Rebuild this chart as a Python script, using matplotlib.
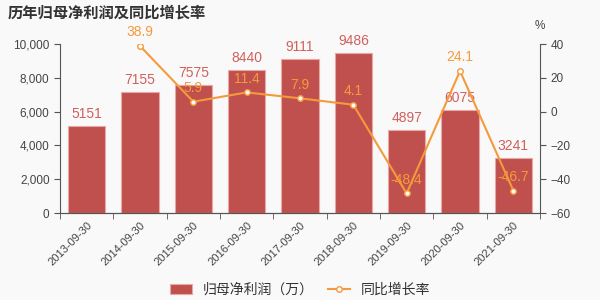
import matplotlib.pyplot as plt
import numpy as np

plt.rcParams['font.family'] = ['Liberation Sans', 'Noto Sans CJK SC', 'DejaVu Sans']
plt.rcParams['axes.unicode_minus'] = False

# data
dates = ['2013-09-30', '2014-09-30', '2015-09-30', '2016-09-30', '2017-09-30',
         '2018-09-30', '2019-09-30', '2020-09-30', '2021-09-30']
profit = [5151, 7155, 7575, 8440, 9111, 9486, 4897, 6075, 3241]
growth = [None, 38.9, 5.9, 11.4, 7.9, 4.1, -48.4, 24.1, -46.7]

bar_color = '#c0504d'
line_color = '#f59a3c'
bg = '#f9f9f9'
axis_color = '#555555'

fig = plt.figure(figsize=(6, 3), dpi=100, facecolor=bg)
ax = fig.add_axes([0.1, 0.29, 0.8, 0.563], facecolor=bg)
x = np.arange(len(dates))

bars = ax.bar(x, profit, width=0.7, color=bar_color, edgecolor='#e8a8a6',
              linewidth=0.8, label='归母净利润（万）', zorder=2)
for xi, v in zip(x, profit):
    ax.text(xi, v + 300, str(v), ha='center', va='bottom', fontsize=10,
            color='#d0605c', zorder=5)

ax.set_xlim(-0.5, len(dates) - 0.5)
ax.set_ylim(0, 10000)
ax.set_yticks(range(0, 10001, 2000))
ax.set_yticklabels(['{:,}'.format(v) for v in range(0, 10001, 2000)])
ax.set_xticks(x)
ax.set_xticklabels(dates, rotation=45, ha='right', rotation_mode='anchor')
ax.set_xticks(np.arange(-0.5, len(dates)), minor=True)
ax.tick_params(axis='x', which='major', length=0, pad=5, labelsize=8)
ax.tick_params(axis='x', which='minor', length=4, color=axis_color)
ax.tick_params(axis='y', length=4, color=axis_color, labelsize=8.5)
ax.tick_params(labelcolor='#444444')

ax2 = ax.twinx()
gx = [xi for xi, g in zip(x, growth) if g is not None]
gy = [g for g in growth if g is not None]
ax2.plot(gx, gy, color=line_color, linewidth=1.5, marker='o', markersize=4,
         markerfacecolor='white', markeredgecolor=line_color, markeredgewidth=1,
         label='同比增长率', zorder=4)
for xi, g in zip(gx, gy):
    ax2.text(xi, g + 4, str(g), ha='center', va='bottom', fontsize=10,
             color=line_color, zorder=5)
ax2.set_ylim(-60, 40)
ax2.set_yticks(range(-60, 41, 20))
ax2.set_yticklabels([str(v).replace('-', '−') for v in range(-60, 41, 20)])
ax2.tick_params(axis='y', length=4, color=axis_color, labelsize=8.5, labelcolor='#444444')
ax2.text(1.0, 1.07, '%', transform=ax2.transAxes, ha='center', va='bottom',
         fontsize=8.5, color='#444444')

for a in (ax, ax2):
    a.spines['top'].set_visible(False)
    for s in ('left', 'right', 'bottom'):
        a.spines[s].set_color(axis_color)
        a.spines[s].set_linewidth(0.8)
ax.spines['right'].set_visible(False)
ax2.spines['left'].set_visible(False)

fig.text(0.012, 0.955, '历年归母净利润及同比增长率', fontsize=11, fontweight='bold',
         color='#333333', ha='left', va='center')

h1, l1 = ax.get_legend_handles_labels()
h2, l2 = ax2.get_legend_handles_labels()
fig.legend(h1 + h2, l1 + l2, loc='center', bbox_to_anchor=(0.5, 0.035), ncol=2,
           frameon=False, fontsize=10, handlelength=1.6, columnspacing=1.0,
           labelcolor='#333333')

fig.savefig('out.png', dpi=100, facecolor=bg)
